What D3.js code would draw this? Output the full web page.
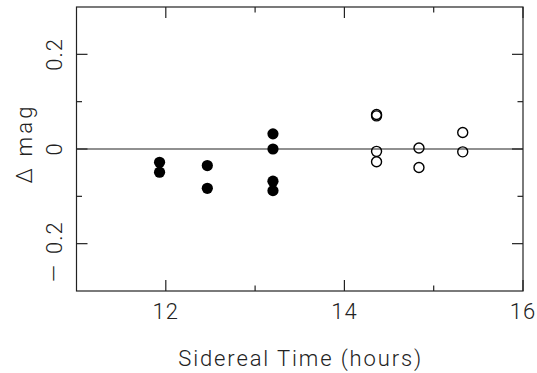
<!DOCTYPE html>
<html>
<head>
<meta charset="utf-8">
<script src="https://cdn.jsdelivr.net/npm/d3@7"></script>
<style>
  body { margin: 0; background: #fff; }
  text { font-family: "Roboto", "Liberation Sans", sans-serif; font-weight: 300; fill: #222; }
</style>
</head>
<body>
<div id="chart"></div>
<script>
// sidereal time (hours) and delta mag
const filledTime = [11.93, 11.93, 12.465, 12.465, 13.2, 13.2, 13.2, 13.2];
const filledMag  = [-0.028, -0.049, -0.035, -0.083, 0.032, 0.0, -0.068, -0.088];
const openTime = [14.36, 14.36, 14.36, 14.36, 14.835, 14.835, 15.325, 15.325];
const openMag  = [0.070, 0.073, -0.005, -0.027, 0.002, -0.039, 0.035, -0.006];
const xTicks = [12, 14, 16];
const xMinor = [13, 15];
const yTicks = [-0.2, 0, 0.2];
const yMinor = [-0.1, 0.1];

const W = 537, H = 373;
const margin = { top: 7, right: 14, bottom: 82, left: 76.5 };
const width = W - margin.left - margin.right;
const height = H - margin.top - margin.bottom;

const svg = d3.select("#chart").append("svg")
    .attr("width", W)
    .attr("height", H)
    .append("g")
    .attr("transform", `translate(${margin.left},${margin.top})`);

const x = d3.scaleLinear().domain([11, 16]).range([0, width]);
const y = d3.scaleLinear().domain([-0.3, 0.3]).range([height, 0]);

const ink = "#222";

// frame
svg.append("rect")
    .attr("width", width).attr("height", height)
    .attr("fill", "none").attr("stroke", ink).attr("stroke-width", 1.2);

// zero line
svg.append("line")
    .attr("x1", 0).attr("x2", width)
    .attr("y1", y(0)).attr("y2", y(0))
    .attr("stroke", ink).attr("stroke-width", 1.2);

// inward ticks on all four sides
function xTickMarks(vals, len) {
    vals.forEach(v => {
        svg.append("line").attr("x1", x(v)).attr("x2", x(v))
            .attr("y1", height).attr("y2", height - len)
            .attr("stroke", ink).attr("stroke-width", 1.2);
        svg.append("line").attr("x1", x(v)).attr("x2", x(v))
            .attr("y1", 0).attr("y2", len)
            .attr("stroke", ink).attr("stroke-width", 1.2);
    });
}
function yTickMarks(vals, len) {
    vals.forEach(v => {
        svg.append("line").attr("x1", 0).attr("x2", len)
            .attr("y1", y(v)).attr("y2", y(v))
            .attr("stroke", ink).attr("stroke-width", 1.2);
        svg.append("line").attr("x1", width).attr("x2", width - len)
            .attr("y1", y(v)).attr("y2", y(v))
            .attr("stroke", ink).attr("stroke-width", 1.2);
    });
}
xTickMarks(xTicks, 11);
xTickMarks(xMinor, 5.5);
yTickMarks(yTicks, 11);
yTickMarks(yMinor, 5.5);

// tick labels
svg.selectAll(".xlab").data(xTicks).enter().append("text")
    .attr("x", d => x(d))
    .attr("y", height + 28)
    .attr("text-anchor", "middle")
    .style("font-size", "22px")
    .style("letter-spacing", "1px")
    .text(d => d);

// PGPLOT uses a long minus; the whole string sits a bit below the tick
const ylab = svg.selectAll(".ylab").data(yTicks).enter().append("text")
    .attr("transform", d => `translate(${62 - margin.left},${y(d) + (d < 0 ? 8 : 0)}) rotate(-90)`)
    .attr("text-anchor", "middle")
    .style("font-size", "22px")
    .style("letter-spacing", "1px");
ylab.filter(d => d < 0).append("tspan").text("\u2014");
ylab.append("tspan")
    .attr("dx", d => d < 0 ? 10 : 0)
    .text(d => d === 0 ? "0" : d3.format(".1f")(Math.abs(d)));

// axis titles
svg.append("text")
    .attr("x", width / 2)
    .attr("y", height + 75)
    .attr("text-anchor", "middle")
    .style("font-size", "22px")
    .attr("textLength", 243)
    .attr("lengthAdjust", "spacing")
    .text("Sidereal Time (hours)");

svg.append("text")
    .attr("transform", `translate(${32 - margin.left},${height / 2 - 4}) rotate(-90)`)
    .attr("text-anchor", "middle")
    .style("font-size", "22px")
    .attr("textLength", 77)
    .attr("lengthAdjust", "spacing")
    .text("\u0394 mag");

// points
svg.selectAll(".filled").data(filledTime).enter().append("circle")
    .attr("cx", d => x(d))
    .attr("cy", (d, i) => y(filledMag[i]))
    .attr("r", 5.6)
    .attr("fill", "#000");

svg.selectAll(".open").data(openTime).enter().append("circle")
    .attr("cx", d => x(d))
    .attr("cy", (d, i) => y(openMag[i]))
    .attr("r", 5)
    .attr("fill", "none")
    .attr("stroke", "#000")
    .attr("stroke-width", 1.4);
</script>
</body>
</html>
